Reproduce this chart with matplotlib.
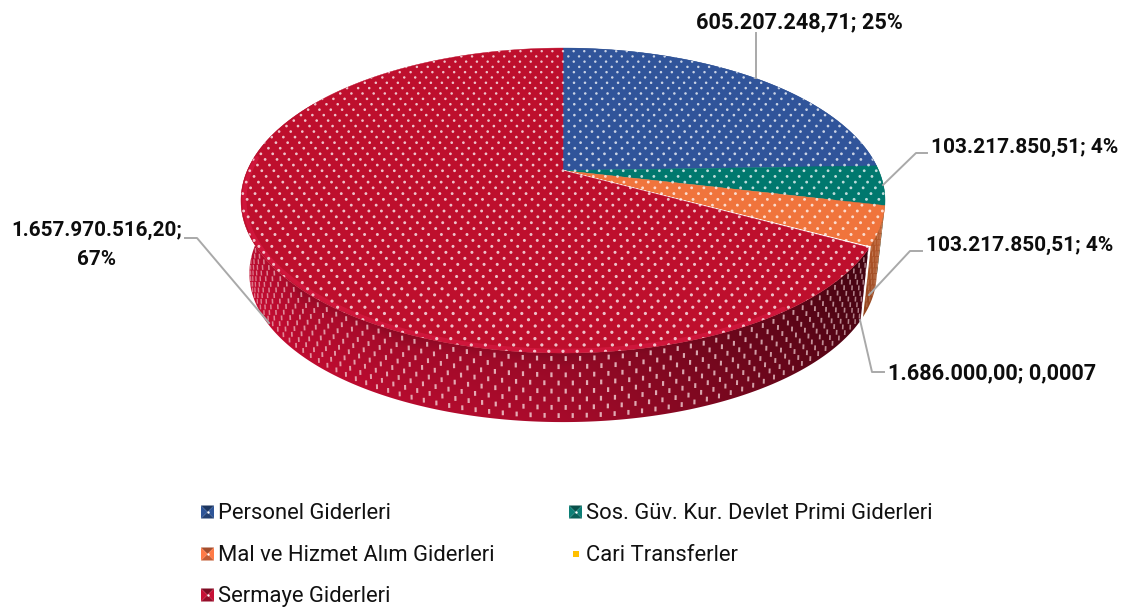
"""Perspective pie of expense items, drawn in pixel coordinates of the figure."""

import numpy as np
import matplotlib
matplotlib.use("Agg")
import matplotlib.pyplot as plt
from matplotlib.collections import LineCollection
from matplotlib.colors import to_rgb
from matplotlib.patches import Polygon

plt.rcParams["font.family"] = ["Roboto", "DejaVu Sans"]

categories = ["Personel Giderleri", "Sos. Güv. Kur. Devlet Primi Giderleri",
              "Mal ve Hizmet Alım Giderleri", "Cari Transferler", "Sermaye Giderleri"]
values = [605207248.71, 103217850.51, 103217850.51, 1686000.00, 1657970516.20]
labels = ["605.207.248,71; 25%", "103.217.850,51; 4%", "103.217.850,51; 4%",
          "1.686.000,00; 0,0007", "1.657.970.516,20;\n67%"]

top_colors = ["#30549a", "#00786e", "#f0743c", "#fff6ea", "#be0f2d"]
wall_colors = ["#243f74", "#005a52", "#b9592a", "#ffffff", "#bc0c30"]
legend_colors = ["#26477f", "#0a6a62", "#d9663a", "#ffc000", "#a50e2d"]

CX, CY = 563.0, 200.5
K = 0.197
A, B, C = 152.5, 30.0, 315.7
BOTTOM_CY, BOTTOM_SCALE = 273.5, 0.974


def project(theta, scale=1.0, cy=CY, r=1.0):
    """Disc angle in degrees, clockwise from 12 o'clock, to picture pixels."""
    t = np.radians(theta)
    u, v = r * np.sin(t), r * np.cos(t)
    d = 1 + K * v
    x = CX + scale * C * u / d
    y = cy - scale * (A * v + B) / d
    return x, y


def arc(a0, a1, **kw):
    th = np.linspace(a0, a1, max(int(abs(a1 - a0) * 2), 3))
    return np.column_stack(project(th, **kw))


fig = plt.figure(figsize=(11.23, 6.10), dpi=100)
ax = fig.add_axes([0, 0, 1, 1])
ax.set_xlim(0, 1123)
ax.set_ylim(610, 0)
ax.axis("off")

edges = np.concatenate([[0], np.cumsum(values) / np.sum(values) * 360])

# wall image: darkens to the right and lightens towards the floor
yy, xx = np.mgrid[0:610, 0:1123]
shade = np.interp(xx, [240, 330, 563, 790, 870], [1.0, 0.97, 0.86, 0.52, 0.38])
rim_y = np.interp(xx, [240, 300, 400, 563, 700, 800, 870], [200, 290, 333, 353, 330, 290, 247])
shade = shade * np.interp(yy - rim_y, [0, 14, 70], [0.8, 0.94, 1.04])

for i in range(len(values)):
    a0, a1 = edges[i], min(edges[i + 1], 300.0)
    top = arc(a0, a1)
    bottom = arc(a0, a1, scale=BOTTOM_SCALE, cy=BOTTOM_CY)
    poly = Polygon(np.vstack([top, bottom[::-1]]), closed=True, transform=ax.transData,
                   fc="none", ec="none")
    ax.add_patch(poly)
    rgb = np.array(to_rgb(wall_colors[i]))
    if i == 3:
        img = np.ones((610, 1123, 3))
    elif i == 4:
        img = np.clip(shade[..., None] * rgb, 0, 1)
    else:
        img = np.clip(np.interp(yy, [205, 310], [1.05, 0.8])[..., None] * rgb, 0, 1)
    im = ax.imshow(img, extent=(0, 1123, 610, 0), aspect="auto", zorder=2, interpolation="bilinear")
    im.set_clip_path(poly)

# elongated dots on the wall, staggered round the rim, thinner where the wall turns away
wall_clip = Polygon(np.vstack([arc(edges[2], 290), arc(edges[2], 290, scale=BOTTOM_SCALE, cy=BOTTOM_CY)[::-1]]),
                    closed=True, fc="none", ec="none", transform=ax.transData)
ax.add_patch(wall_clip)
segs, widths, seg_colors = [], [], []
for r, f in enumerate(np.arange(0.08, 1.0, 0.118)):
    for th in np.arange(104 + (r % 2) * 1.05, 290, 2.1):
        x0, y0 = project(th)
        x1, y1 = project(th, scale=BOTTOM_SCALE, cy=BOTTOM_CY)
        xm, ym = x0 + (x1 - x0) * f, y0 + (y1 - y0) * f
        segs.append(((xm, ym - 2.4), (xm + (x1 - x0) * 0.03, ym + 2.4)))
        turn = abs(np.cos(np.radians(th - 180)))
        if th < edges[3]:
            widths.append(0.8)
            seg_colors.append((1, 0.85, 0.75, 0.25))
        else:
            widths.append(0.5 + 1.1 * turn)
            seg_colors.append((0.96, 0.84, 0.85, 0.35 + 0.45 * turn))
lc = LineCollection(segs, colors=seg_colors, linewidths=widths, zorder=3)
ax.add_collection(lc)
lc.set_clip_path(wall_clip)

# top face
for i in range(len(values)):
    pts = np.vstack([[project(0, r=0.0)], arc(edges[i], edges[i + 1])])
    ec = "white" if i == 3 else top_colors[i]
    ax.add_patch(Polygon(pts, closed=True, fc=top_colors[i], ec=ec, lw=0.8 if i == 3 else 0.3, zorder=4))

# bright bevel along the front and left rim
rim = arc(edges[4] + 25, 275, r=0.99)
ax.plot(rim[:, 0], rim[:, 1], color="#dc1c46", lw=3.0, alpha=0.6, zorder=4.5, solid_capstyle="round")

# dots of the top face, spacing grows towards the viewer
face_clip = Polygon(arc(0, 360), closed=True, fc="none", ec="none", transform=ax.transData)
ax.add_patch(face_clip)
dots_x, dots_y, dots_s = [], [], []
y, row = 46.0, 0
while y < 358:
    frac = (y - 48) / 305
    dx = 10.6 + 3.6 * frac
    off = (dx / 2) if row % 2 else 0
    xs = CX + off + dx * (np.arange(-34, 35) + 0.5)
    dots_x.extend(xs)
    dots_y.extend([y] * len(xs))
    dots_s.extend([3.0 + 2.6 * frac] * len(xs))
    y += 5.2 + 1.2 * frac
    row += 1
dots = ax.scatter(dots_x, dots_y, s=dots_s, c="#ffffff", alpha=0.75, linewidths=0, zorder=5)
dots.set_clip_path(face_clip)

# white edge where the tiny slice runs down the wall
cx0, cy0 = project(edges[3])
cx1, cy1 = project(edges[3], scale=BOTTOM_SCALE, cy=BOTTOM_CY)
ax.plot([cx0, cx1], [cy0, cy1], color="white", lw=1.5, zorder=6)

# leader lines
leaders = [
    ([756, 756], [78, 33]),
    ([883, 916, 927], [185, 153, 153]),
    ([869, 910, 922], [295, 251, 251]),
    ([860, 872, 884], [320, 372, 372]),
    ([269, 197, 185], [323, 238, 238]),
]
for lx, ly in leaders:
    ax.plot(lx, ly, color="#a9a9a9", lw=1.4, zorder=7)

label_pos = [(799, 21, "center"), (931, 146, "left"), (926, 244, "left"), (888, 372, "left"), (96.5, 244, "center")]
label_sizes = [15.6, 15.0, 15.0, 15.6, 14.9]
for (lx, ly, ha), text, size in zip(label_pos, labels, label_sizes):
    ax.text(lx, ly + 1, text, ha=ha, va="center", fontsize=size, fontweight="bold", color="#0d0d0d",
            linespacing=1.66, zorder=8)

# legend with bevelled markers
leg_pos = [(201, 512), (569, 512), (201, 554), (569, 554), (201, 595)]
for (mx, my), name, col in zip(leg_pos, categories, legend_colors):
    if name == "Cari Transferler":
        ax.add_patch(plt.Rectangle((mx + 3.5, my - 3), 6, 6, fc=col, ec="none"))
    else:
        base = np.array(to_rgb(col))
        s = 13
        x0, y0 = mx, my - s / 2
        c = (x0 + s / 2, y0 + s / 2)
        corners = [(x0, y0), (x0 + s, y0), (x0 + s, y0 + s), (x0, y0 + s)]
        for j, fac in enumerate([0.75, 1.2, 0.9, 1.2]):
            tri = [corners[j], corners[(j + 1) % 4], c]
            ax.add_patch(Polygon(tri, closed=True, fc=np.clip(base * fac, 0, 1), ec="none"))
        ax.scatter([c[0]], [c[1]], s=3, c="white", linewidths=0, zorder=3)
    ax.text(mx + 16.5, my + 1.5, name, ha="left", va="center", fontsize=15.8, color="#111111")

fig.savefig("out.png", dpi=100)
